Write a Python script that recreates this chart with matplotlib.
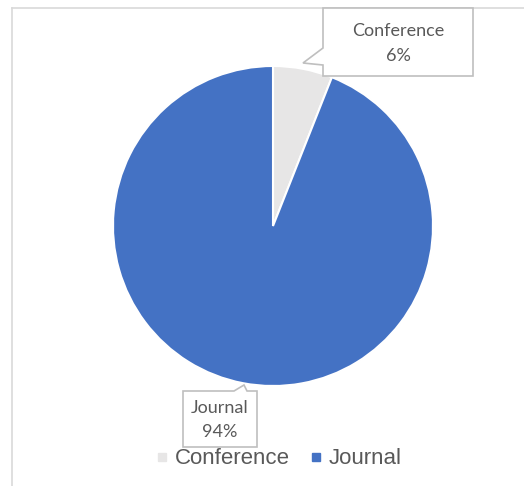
import matplotlib.pyplot as plt
from matplotlib.patches import Polygon
from matplotlib.lines import Line2D

# data
categories = ["Conference", "Journal"]
shares = [6, 94]
colors = ["#E7E6E6", "#4472C4"]

W, H = 524, 486
fig = plt.figure(figsize=(W / 100, H / 100), dpi=100)
ax = fig.add_axes([0, 0, 1, 1])

cx, cy, r = 273, H - 226, 160
wedges, _ = ax.pie(shares, colors=colors, startangle=90, counterclock=False,
                   center=(cx, cy), radius=r, frame=True,
                   wedgeprops=dict(edgecolor="white", linewidth=1.5))
ax.set_xlim(0, W)
ax.set_ylim(0, H)
ax.set_aspect("equal")
ax.axis("off")

# chart area frame (top and left only visible)
frame_c = "#D9D9D9"
ax.plot([12, W], [H - 8, H - 8], color=frame_c, lw=1.2, clip_on=False)
ax.plot([12, 12], [H - 8, 0], color=frame_c, lw=1.2, clip_on=False)

txt_c = "#595959"
box_c = "#BFBFBF"
lab_font = ["Lato", "DejaVu Sans"]
pct = [s / sum(shares) * 100 for s in shares]

# callout for Conference
x0, x1, y0, y1 = 323, 473, H - 76, H - 8
conf = Polygon([(x0, y1), (x0, H - 48), (303, H - 63), (x0, H - 65), (x0, y0),
                (x1, y0), (x1, y1)], closed=True, facecolor="white",
               edgecolor=box_c, lw=1.2, zorder=3)
ax.add_patch(conf)
ax.text((x0 + x1) / 2, H - 31, categories[0], ha="center", va="center",
        fontsize=13, color=txt_c, family=lab_font, zorder=4)
ax.text((x0 + x1) / 2, H - 56, f"{pct[0]:.0f}%", ha="center", va="center",
        fontsize=13, color=txt_c, family=lab_font, zorder=4)

# callout for Journal
x0, x1, y0, y1 = 183, 257, H - 447, H - 391
jour = Polygon([(x0, y1), (234, y1), (244, H - 385), (247, y1), (x1, y1),
                (x1, y0), (x0, y0)], closed=True, facecolor="white",
               edgecolor=box_c, lw=1.2, zorder=3)
ax.add_patch(jour)
ax.text((x0 + x1) / 2, H - 408, categories[1], ha="center", va="center",
        fontsize=13, color=txt_c, family=lab_font, zorder=4)
ax.text((x0 + x1) / 2, H - 432, f"{pct[1]:.0f}%", ha="center", va="center",
        fontsize=13, color=txt_c, family=lab_font, zorder=4)

# legend
handles = [Line2D([], [], marker="s", linestyle="none", markersize=6,
                  markerfacecolor=c, markeredgecolor=c) for c in colors]
leg = ax.legend(handles, categories, loc="center", ncol=2, frameon=False,
                bbox_to_anchor=(279 / W, 27 / H),
                handlelength=0.5, handletextpad=0.35, columnspacing=0.9,
                prop={"family": "Liberation Sans", "size": 16})
for t in leg.get_texts():
    t.set_color(txt_c)

fig.savefig("out.png", dpi=100)
